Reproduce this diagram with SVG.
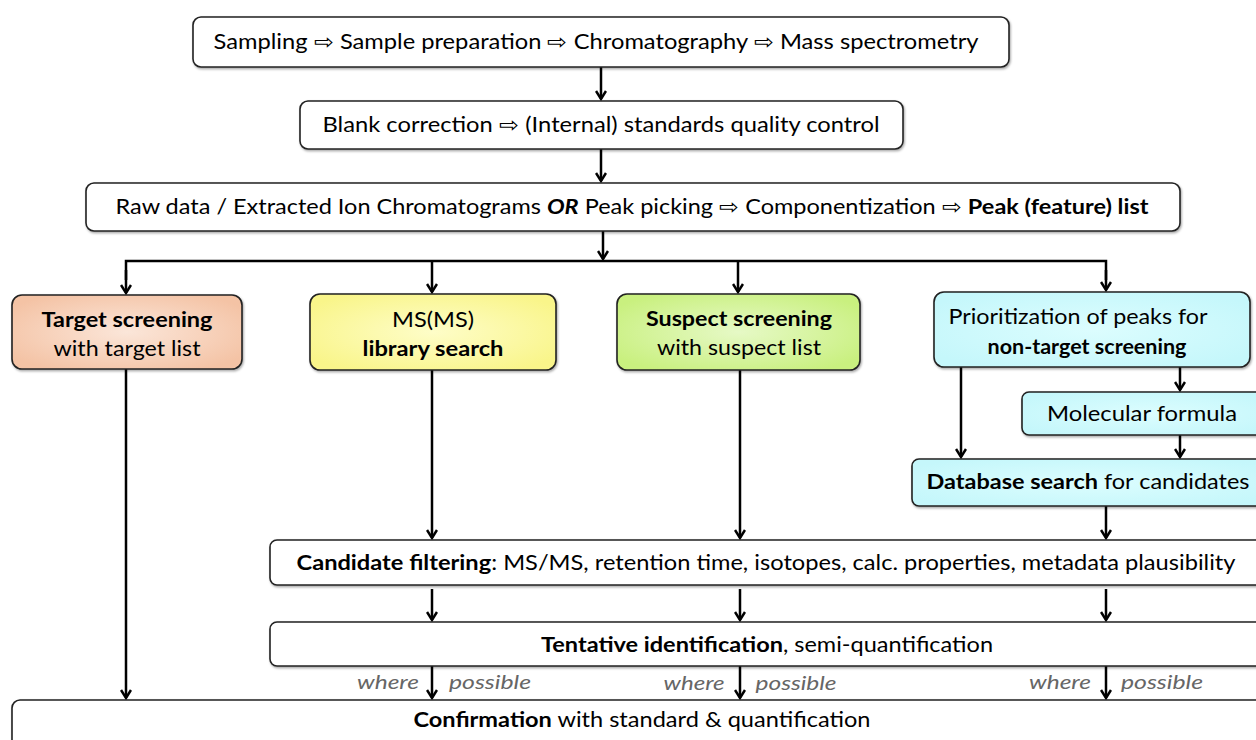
<svg xmlns="http://www.w3.org/2000/svg" width="1256" height="740" viewBox="0 0 1256 740">
<defs>
<style>
text{font-family:Lato,"Open Sans","Liberation Sans",sans-serif;font-size:21px;fill:#000;text-anchor:middle}
.b{font-weight:bold}
.w{font-style:italic;fill:#666;font-size:20px}
.box{stroke:#222;stroke-width:1.6}
.c{stroke:#000;stroke-width:2.5;fill:none}
</style>
<radialGradient id="gT" cx="50%" cy="50%" r="60%"><stop offset="0" stop-color="#fbe6d9"/><stop offset="1" stop-color="#f4c3a5"/></radialGradient>
<radialGradient id="gL" cx="50%" cy="50%" r="60%"><stop offset="0" stop-color="#fefdc8"/><stop offset="1" stop-color="#f9f58a"/></radialGradient>
<radialGradient id="gS" cx="50%" cy="50%" r="60%"><stop offset="0" stop-color="#e6f9c6"/><stop offset="1" stop-color="#c9f07f"/></radialGradient>
<radialGradient id="gC" cx="50%" cy="50%" r="60%"><stop offset="0" stop-color="#dcfdfe"/><stop offset="1" stop-color="#c5f7fb"/></radialGradient>
<filter id="sh" x="-5%" y="-10%" width="110%" height="130%"><feDropShadow dx="1" dy="1.5" stdDeviation="1" flood-color="#000" flood-opacity="0.35"/></filter>
<marker id="arr" viewBox="0 0 12 12" refX="10" refY="6" markerWidth="12" markerHeight="12" markerUnits="userSpaceOnUse" orient="auto">
<polyline points="2,1 10,6 2,11" fill="none" stroke="#000" stroke-width="2.5"/>
</marker>
</defs>

<g id="connectors">
<line class="c" x1="601" y1="67" x2="601" y2="99" marker-end="url(#arr)"/>
<line class="c" x1="601" y1="149" x2="601" y2="181" marker-end="url(#arr)"/>
<line class="c" x1="603" y1="231" x2="603" y2="259" marker-end="url(#arr)"/>
<polyline class="c" points="126,280 126,261 1106,261 1106,280"/>
<line class="c" x1="126" y1="270" x2="126" y2="293" marker-end="url(#arr)"/>
<line class="c" x1="432" y1="261" x2="432" y2="292" marker-end="url(#arr)"/>
<line class="c" x1="738" y1="261" x2="738" y2="292" marker-end="url(#arr)"/>
<line class="c" x1="1106" y1="270" x2="1106" y2="290" marker-end="url(#arr)"/>
<line class="c" x1="961" y1="367" x2="961" y2="457" marker-end="url(#arr)"/>
<line class="c" x1="1180" y1="367" x2="1180" y2="390" marker-end="url(#arr)"/>
<line class="c" x1="1180" y1="435" x2="1180" y2="457" marker-end="url(#arr)"/>
<line class="c" x1="432" y1="370" x2="432" y2="538" marker-end="url(#arr)"/>
<line class="c" x1="740" y1="370" x2="740" y2="538" marker-end="url(#arr)"/>
<line class="c" x1="1106" y1="506" x2="1106" y2="538" marker-end="url(#arr)"/>
<line class="c" x1="432" y1="589" x2="432" y2="620" marker-end="url(#arr)"/>
<line class="c" x1="740" y1="589" x2="740" y2="620" marker-end="url(#arr)"/>
<line class="c" x1="1106" y1="589" x2="1106" y2="620" marker-end="url(#arr)"/>
<line class="c" x1="432" y1="666" x2="432" y2="698" marker-end="url(#arr)"/>
<line class="c" x1="740" y1="666" x2="740" y2="698" marker-end="url(#arr)"/>
<line class="c" x1="1106" y1="666" x2="1106" y2="698" marker-end="url(#arr)"/>
<line class="c" x1="126" y1="369" x2="126" y2="698" marker-end="url(#arr)"/>
<text class="w" x="388" y="689" textLength="62" lengthAdjust="spacingAndGlyphs">where</text>
<text class="w" x="490" y="689" textLength="82" lengthAdjust="spacingAndGlyphs">possible</text>
<text class="w" x="694" y="690" textLength="61" lengthAdjust="spacingAndGlyphs">where</text>
<text class="w" x="796" y="690" textLength="81" lengthAdjust="spacingAndGlyphs">possible</text>
<text class="w" x="1060" y="689" textLength="62" lengthAdjust="spacingAndGlyphs">where</text>
<text class="w" x="1162" y="689" textLength="82" lengthAdjust="spacingAndGlyphs">possible</text>
</g>

<g id="n1">
<rect class="box" x="193" y="17" width="816" height="50" rx="8" fill="#fff" filter="url(#sh)"/>
<text x="596" y="49" textLength="765" lengthAdjust="spacingAndGlyphs">Sampling ⇨ Sample preparation ⇨ Chromatography ⇨ Mass spectrometry</text>
</g>
<g id="n2">
<rect class="box" x="300" y="101" width="603" height="48" rx="8" fill="#fff" filter="url(#sh)"/>
<text x="601" y="132" textLength="557" lengthAdjust="spacingAndGlyphs">Blank correction ⇨ (Internal) standards quality control</text>
</g>
<g id="n3">
<rect class="box" x="86" y="183" width="1094" height="48" rx="8" fill="#fff" filter="url(#sh)"/>
<text x="632" y="214" textLength="1033" lengthAdjust="spacingAndGlyphs">Raw data / Extracted Ion Chromatograms <tspan class="b" font-style="italic">OR</tspan> Peak picking ⇨ Componentization ⇨ <tspan class="b">Peak (feature) list</tspan></text>
</g>
<g id="target">
<rect class="box" x="12" y="295" width="230" height="74" rx="10" fill="url(#gT)" filter="url(#sh)"/>
<text class="b" x="127" y="327" textLength="171" lengthAdjust="spacingAndGlyphs">Target screening</text>
<text x="127" y="356" textLength="147" lengthAdjust="spacingAndGlyphs">with target list</text>
</g>
<g id="library">
<rect class="box" x="310" y="294" width="246" height="76" rx="10" fill="url(#gL)" filter="url(#sh)"/>
<text x="433" y="327" textLength="82" lengthAdjust="spacingAndGlyphs">MS(MS)</text>
<text class="b" x="433" y="356" textLength="141" lengthAdjust="spacingAndGlyphs">library search</text>
</g>
<g id="suspect">
<rect class="box" x="617" y="294" width="243" height="76" rx="10" fill="url(#gS)" filter="url(#sh)"/>
<text class="b" x="739" y="326" textLength="186" lengthAdjust="spacingAndGlyphs">Suspect screening</text>
<text x="739" y="355" textLength="164" lengthAdjust="spacingAndGlyphs">with suspect list</text>
</g>
<g id="prioritization">
<rect class="box" x="934" y="292" width="316" height="75" rx="10" fill="url(#gC)" filter="url(#sh)"/>
<text x="1078" y="324" textLength="259" lengthAdjust="spacingAndGlyphs">Prioritization of peaks for</text>
<text class="b" x="1087" y="354" textLength="199" lengthAdjust="spacingAndGlyphs">non-target screening</text>
</g>
<g id="formula">
<rect class="box" x="1022" y="392" width="250" height="43" rx="7" fill="url(#gC)" filter="url(#sh)"/>
<text x="1142" y="421" textLength="190" lengthAdjust="spacingAndGlyphs">Molecular formula</text>
</g>
<g id="database">
<rect class="box" x="912" y="459" width="360" height="47" rx="7" fill="url(#gC)" filter="url(#sh)"/>
<text x="1088" y="489" textLength="323" lengthAdjust="spacingAndGlyphs"><tspan class="b">Database search</tspan> for candidates</text>
</g>
<g id="filtering">
<rect class="box" x="270" y="540" width="1010" height="45" rx="7" fill="#fff" filter="url(#sh)"/>
<text x="766" y="570" textLength="939" lengthAdjust="spacingAndGlyphs"><tspan class="b">Candidate filtering</tspan>: MS/MS, retention time, isotopes, calc. properties, metadata plausibility</text>
</g>
<g id="tentative">
<rect class="box" x="270" y="622" width="1010" height="44" rx="7" fill="#fff" filter="url(#sh)"/>
<text x="767" y="652" textLength="452" lengthAdjust="spacingAndGlyphs"><tspan class="b">Tentative identification</tspan>, semi-quantification</text>
</g>
<g id="confirmation">
<rect class="box" x="12" y="700" width="1270" height="60" rx="8" fill="#fff" filter="url(#sh)"/>
<text x="642" y="727" textLength="457" lengthAdjust="spacingAndGlyphs"><tspan class="b">Confirmation</tspan> with standard &amp; quantification</text>
</g>
</svg>
